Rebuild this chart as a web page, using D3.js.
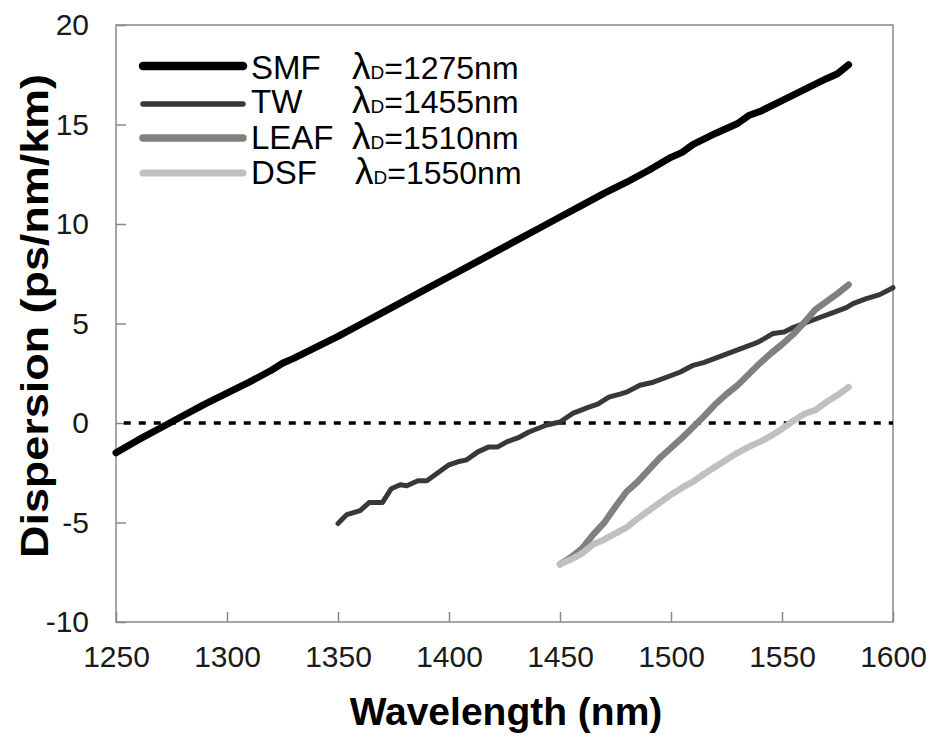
<!DOCTYPE html>
<html>
<head>
<meta charset="utf-8">
<script src="https://cdn.jsdelivr.net/npm/d3@7"></script>
<style>
  body { margin: 0; background: #fff; }
  svg { font-family: "Liberation Sans", Arial, sans-serif; }
</style>
</head>
<body>
<svg width="934" height="740"></svg>
<script>
// wavelength (nm) / dispersion (ps/nm/km)
var smfWl = [1250, 1260, 1270, 1280, 1290, 1300, 1310, 1320, 1325, 1330, 1340, 1350, 1360, 1370, 1380, 1390, 1400, 1410, 1420, 1430, 1440, 1450, 1460, 1470, 1480, 1490, 1500, 1505, 1510, 1520, 1530, 1535, 1540, 1550, 1560, 1570, 1575, 1580];
var smfD = [-1.5, -0.85, -0.25, 0.35, 0.95, 1.5, 2.05, 2.65, 3.0, 3.25, 3.8, 4.35, 4.95, 5.55, 6.15, 6.75, 7.35, 7.95, 8.55, 9.15, 9.75, 10.35, 10.95, 11.55, 12.1, 12.7, 13.35, 13.6, 14.0, 14.55, 15.05, 15.45, 15.65, 16.2, 16.75, 17.3, 17.55, 18.0];

var twWl = [1350, 1354, 1360, 1364, 1370, 1374, 1378, 1381, 1386, 1390, 1395, 1400, 1404, 1408, 1413, 1418, 1422, 1426, 1431, 1436, 1444, 1450, 1456, 1463, 1467, 1472, 1477, 1480, 1486, 1492, 1498, 1504, 1510, 1515, 1521, 1527, 1533, 1539, 1543, 1546, 1551, 1555, 1561, 1567, 1573, 1579, 1582, 1588, 1594, 1600];
var twD = [-5.05, -4.6, -4.4, -4.0, -4.0, -3.3, -3.1, -3.15, -2.9, -2.9, -2.5, -2.1, -1.95, -1.85, -1.45, -1.2, -1.2, -0.95, -0.75, -0.45, -0.1, 0.05, 0.5, 0.8, 0.95, 1.3, 1.45, 1.55, 1.9, 2.05, 2.3, 2.55, 2.9, 3.05, 3.3, 3.55, 3.8, 4.05, 4.3, 4.5, 4.57, 4.8, 5.05, 5.3, 5.55, 5.8, 6.0, 6.25, 6.45, 6.8];

var leafWl = [1450, 1455, 1460, 1465, 1470, 1475, 1480, 1485, 1490, 1495, 1500, 1505, 1510, 1515, 1520, 1525, 1530, 1535, 1540, 1545, 1550, 1555, 1560, 1565, 1570, 1575, 1580];
var leafD = [-7.1, -6.75, -6.3, -5.6, -5.0, -4.2, -3.45, -2.95, -2.35, -1.75, -1.25, -0.75, -0.2, 0.35, 0.95, 1.45, 1.9, 2.45, 3.0, 3.5, 3.95, 4.45, 5.05, 5.7, 6.1, 6.5, 6.95];

var dsfWl = [1450, 1455, 1460, 1465, 1470, 1475, 1480, 1485, 1490, 1495, 1500, 1505, 1510, 1515, 1520, 1525, 1530, 1535, 1540, 1545, 1550, 1555, 1560, 1565, 1570, 1575, 1580];
var dsfD = [-7.1, -6.85, -6.55, -6.1, -5.85, -5.55, -5.25, -4.8, -4.4, -4.0, -3.6, -3.25, -2.95, -2.55, -2.2, -1.85, -1.5, -1.2, -0.95, -0.65, -0.3, 0.1, 0.45, 0.65, 1.05, 1.4, 1.8];

var xTicks = [1250, 1300, 1350, 1400, 1450, 1500, 1550, 1600];
var yTicks = [-10, -5, 0, 5, 10, 15, 20];

var seriesNames = ["SMF", "TW", "LEAF", "DSF"];
var zeroWl = ["1275", "1455", "1510", "1550"];

var svg = d3.select("svg");
var plotLeft = 116, plotRight = 893, plotTop = 25, plotBottom = 622;

var x = d3.scaleLinear().domain([1250, 1600]).range([plotLeft, plotRight]);
var y = d3.scaleLinear().domain([-10, 20]).range([plotBottom, plotTop]);

var series = [
  { wl: smfWl, d: smfD, color: "#000", width: 7, legW: 8.5 },
  { wl: twWl, d: twD, color: "#383838", width: 5, legW: 5.5 },
  { wl: leafWl, d: leafD, color: "#808080", width: 6.5, legW: 7.5 },
  { wl: dsfWl, d: dsfD, color: "#c0c0c0", width: 6.5, legW: 7 }
];

// frame
svg.append("rect")
    .attr("x", plotLeft).attr("y", plotTop)
    .attr("width", plotRight - plotLeft).attr("height", plotBottom - plotTop)
    .attr("fill", "none").attr("stroke", "#888").attr("stroke-width", 1.5);

// axes with inward ticks, plain hyphen for negatives
var plain = function (d) { return String(d); };
var xAxis = d3.axisBottom(x).tickValues(xTicks).tickSize(-10).tickPadding(24).tickFormat(plain);
var yAxis = d3.axisLeft(y).tickValues(yTicks).tickSize(-10).tickPadding(27).tickFormat(plain);

var gx = svg.append("g").attr("transform", "translate(0," + plotBottom + ")").call(xAxis);
var gy = svg.append("g").attr("transform", "translate(" + plotLeft + ",0)").call(yAxis);

[gx, gy].forEach(function (g) {
  g.select(".domain").remove();
  g.selectAll(".tick line").attr("stroke", "#888").attr("stroke-width", 1.5);
  g.selectAll(".tick text").attr("fill", "#1a1a1a").style("font-size", "30px");
});
gy.selectAll(".tick text").attr("dy", "0.33em");
gx.selectAll(".tick text").attr("dy", "0.71em");

// zero line
svg.append("line")
    .attr("x1", x(1253.5)).attr("x2", plotRight)
    .attr("y1", y(0)).attr("y2", y(0))
    .attr("stroke", "#000").attr("stroke-width", 3.5)
    .attr("stroke-dasharray", "7,8");

var line = d3.line()
    .x(function (p) { return x(p[0]); })
    .y(function (p) { return y(p[1]); });

series.forEach(function (s) {
  svg.append("path")
      .datum(d3.zip(s.wl, s.d))
      .attr("fill", "none")
      .attr("stroke", s.color)
      .attr("stroke-width", s.width)
      .attr("stroke-linejoin", "round")
      .attr("stroke-linecap", "round")
      .attr("d", line);
});

// legend
var legLineY = [66, 104, 138, 173];
var legTextY = [79, 113, 149, 184];
var lamX = [352, 352, 352, 355];

var legend = svg.append("g");
series.forEach(function (s, i) {
  legend.append("line")
      .attr("x1", 143).attr("x2", 243)
      .attr("y1", legLineY[i]).attr("y2", legLineY[i])
      .attr("stroke", s.color).attr("stroke-width", s.legW)
      .attr("stroke-linecap", "round");
  legend.append("text")
      .attr("x", 251).attr("y", legTextY[i])
      .style("font-size", "33px")
      .text(seriesNames[i]);
  var t = legend.append("text")
      .attr("x", lamX[i]).attr("y", legTextY[i]);
  t.append("tspan").style("font-size", "37px").text("λ");
  t.append("tspan").style("font-size", "19px").text("D");
  t.append("tspan").style("font-size", "32px").text("=" + zeroWl[i] + "nm");
});

// axis titles
svg.append("text")
    .attr("x", 506).attr("y", 725)
    .attr("text-anchor", "middle")
    .style("font-size", "39px").style("font-weight", "bold")
    .text("Wavelength (nm)");

svg.append("text")
    .attr("transform", "translate(48,316) rotate(-90)")
    .attr("text-anchor", "middle")
    .attr("textLength", 484).attr("lengthAdjust", "spacingAndGlyphs")
    .style("font-size", "39px").style("font-weight", "bold")
    .text("Dispersion (ps/nm/km)");
</script>
</body>
</html>
